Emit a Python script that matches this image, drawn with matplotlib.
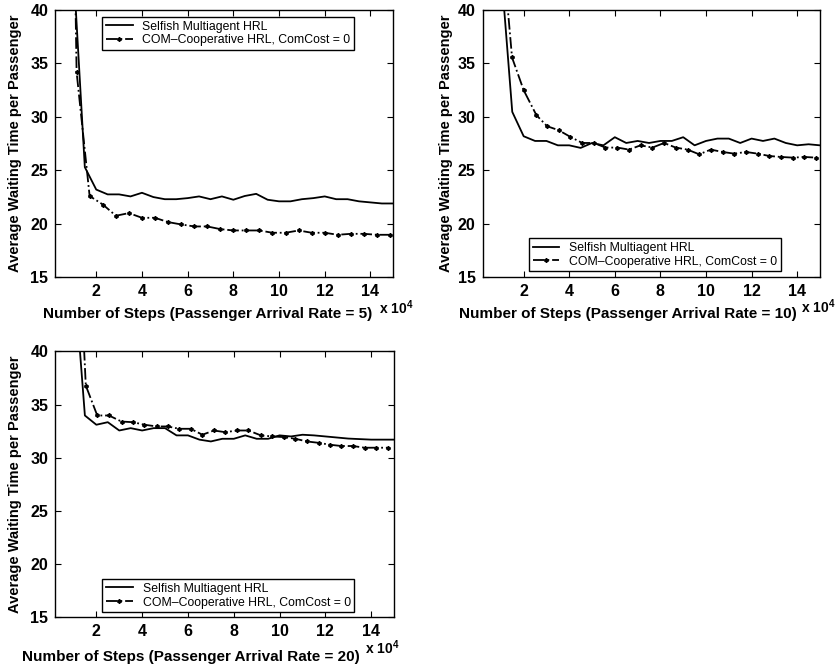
import matplotlib
matplotlib.use('Agg')
import matplotlib.pyplot as plt
import numpy as np

plt.rcParams['font.family'] = ['Liberation Sans', 'DejaVu Sans']
plt.rcParams['mathtext.fontset'] = 'custom'
plt.rcParams['mathtext.rm'] = 'Liberation Sans:bold'
plt.rcParams['mathtext.it'] = 'Liberation Sans:bold'

# x in units of 10^4 steps
sel_x = np.arange(1.0, 15.01, 0.5)

# Arrival rate = 5
sel1_y = [44, 25.3, 23.2, 22.75, 22.75, 22.56, 22.9, 22.5, 22.3, 22.3,
          22.4, 22.56, 22.3, 22.56, 22.25, 22.6, 22.8, 22.25, 22.1, 22.1,
          22.3, 22.4, 22.56, 22.3, 22.3, 22.1, 22.0, 21.9, 21.9]
coop1_x = [0.57, 1.14, 1.71, 2.29, 2.86, 3.43, 4.0, 4.57, 5.14, 5.71,
           6.29, 6.86, 7.43, 8.0, 8.57, 9.14, 9.71, 10.29, 10.86, 11.43,
           12.0, 12.57, 13.14, 13.71, 14.29, 14.86]
coop1_y = [110, 34.2, 22.6, 21.8, 20.75, 21.0, 20.56, 20.56, 20.16, 19.94,
           19.75, 19.75, 19.5, 19.375, 19.375, 19.375, 19.16, 19.16, 19.375, 19.16,
           19.16, 18.97, 19.06, 19.06, 18.97, 18.97]

# Arrival rate = 10
sel2_y = [44, 30.47, 28.19, 27.75, 27.75, 27.34, 27.34, 27.1, 27.56, 27.34,
          28.1, 27.56, 27.75, 27.56, 27.75, 27.75, 28.1, 27.34, 27.75, 27.97,
          27.97, 27.56, 27.97, 27.75, 27.97, 27.56, 27.34, 27.44, 27.34]
coop2_x = [0.98, 1.49, 2.0, 2.56, 3.03, 3.54, 4.05, 4.57, 5.08, 5.59,
           6.11, 6.62, 7.13, 7.65, 8.16, 8.67, 9.19, 9.70, 10.21, 10.73,
           11.24, 11.75, 12.27, 12.78, 13.3, 13.81, 14.32, 14.84]
coop2_y = [48, 35.56, 32.5, 30.16, 29.13, 28.75, 28.13, 27.56, 27.56, 27.13,
           27.13, 26.94, 27.34, 27.13, 27.56, 27.13, 26.94, 26.5, 26.94, 26.72,
           26.56, 26.72, 26.56, 26.34, 26.25, 26.19, 26.25, 26.19]

# Arrival rate = 20
sel3_y = [48, 33.97, 33.1, 33.34, 32.56, 32.78, 32.56, 32.78, 32.78, 32.1,
          32.1, 31.7, 31.53, 31.78, 31.78, 32.1, 31.78, 31.78, 32.1, 32.0,
          32.16, 32.1, 32.0, 31.9, 31.8, 31.75, 31.7, 31.7, 31.7]
coop3_x = [1.03, 1.54, 2.04, 2.55, 3.1, 3.6, 4.1, 4.64, 5.11, 5.62,
           6.12, 6.63, 7.13, 7.63, 8.14, 8.64, 9.18, 9.68, 10.18, 10.69,
           11.19, 11.7, 12.2, 12.7, 13.2, 13.71, 14.22, 14.72]
coop3_y = [60, 36.78, 33.97, 33.97, 33.4, 33.34, 33.1, 32.94, 32.94, 32.72,
           32.72, 32.16, 32.56, 32.4, 32.56, 32.56, 32.1, 32.0, 31.94, 31.78,
           31.53, 31.4, 31.22, 31.1, 31.1, 30.94, 30.94, 30.94]

rates = [5, 10, 20]
labels = ['Selfish Multiagent HRL', 'COM\u2013Cooperative HRL, ComCost = 0']
yticks = [15, 20, 25, 30, 35, 40]
xticks = [2, 4, 6, 8, 10, 12, 14]

fig = plt.figure(figsize=(8.35, 6.68), dpi=100)
ax1 = fig.add_axes([0.066, 0.585, 0.405, 0.400])
ax2 = fig.add_axes([0.578, 0.585, 0.404, 0.400])
ax3 = fig.add_axes([0.066, 0.076, 0.406, 0.398])


def panel(ax, sy, cx, cy, rate, leg_loc, leg_anchor, ylab_x, xlab_pos, exp_pos):
    ax.plot(sel_x, sy, '-', color='black', lw=1.3, label=labels[0])
    ax.plot(cx, cy, '-.', color='black', lw=1.3, marker=(6, 2, 0), ms=3,
            mew=1.1, label=labels[1])
    ax.set_xlim(0.2, 15)
    ax.set_ylim(15, 40)
    ax.set_xticks(xticks)
    ax.set_yticks(yticks)
    ax.tick_params(direction='in', top=True, right=True, length=4, width=0.8,
                   pad=5)
    for t in ax.get_xticklabels() + ax.get_yticklabels():
        t.set_fontweight('bold')
        t.set_fontsize(11.5)
    for s in ax.spines.values():
        s.set_linewidth(1.0)
    ax.set_ylabel('Average Waiting Time per Passenger', fontsize=10.5,
                  fontweight='bold')
    ax.yaxis.set_label_coords(ylab_x, 0.5)
    ax.set_xlabel('Number of Steps (Passenger Arrival Rate = %d)' % rate,
                  fontsize=11, fontweight='bold')
    ax.xaxis.set_label_coords(xlab_pos[0], xlab_pos[1])
    ax.text(exp_pos[0], exp_pos[1], r'x 10$^4$', transform=ax.transAxes,
            fontsize=10, fontweight='bold', ha='center', va='center')
    leg = ax.legend(loc=leg_loc, bbox_to_anchor=leg_anchor, fontsize=8.8,
                    frameon=True, fancybox=False, framealpha=1,
                    edgecolor='black', borderaxespad=0, handlelength=2.2,
                    borderpad=0.3, labelspacing=0.15)
    leg.get_frame().set_linewidth(1.0)


panel(ax1, sel1_y, coop1_x, coop1_y, rates[0], 'upper left', (0.139, 0.974),
      -0.098, (0.45, -0.11), (1.01, -0.115))
panel(ax2, sel2_y, coop2_x, coop2_y, rates[1], 'lower left', (0.137, 0.022),
      -0.087, (0.43, -0.11), (0.995, -0.11))
panel(ax3, sel3_y, coop3_x, coop3_y, rates[2], 'lower left', (0.139, 0.019),
      -0.098, (0.40, -0.125), (0.965, -0.115))

fig.savefig('out.png', dpi=100)
